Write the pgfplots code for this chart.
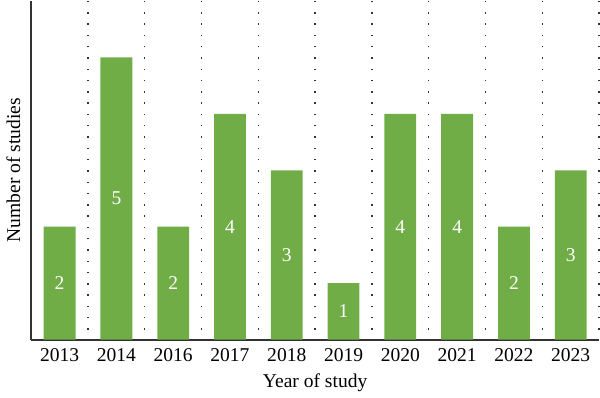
\documentclass[border=0pt]{standalone}
\usepackage{fontspec}
\setmainfont{Liberation Serif}
\usepackage{pgfplots}
\usepackage{pgfplotstable}
\pgfplotsset{compat=1.18}
\definecolor{bargreen}{HTML}{70AD47}
\pgfplotstableread{
x n
0 2
1 5
2 2
3 4
4 3
5 1
6 4
7 4
8 2
9 3
}\studies
\begin{document}
\fontsize{9.5}{11}\selectfont
\begin{tikzpicture}
\begin{axis}[
  scale only axis, width=285pt, height=170pt,
  xmin=-0.5, xmax=9.5, ymin=0, ymax=6,
  axis lines*=left,
  axis line style={-, draw=black!80, line width=0.9pt},
  xtick={0,...,9},
  xticklabels={2013,2014,2016,2017,2018,2019,2020,2021,2022,2023},
  ytick=\empty,
  major tick length=0pt, minor tick length=0pt,
  minor xtick={0.5,1.5,...,9.5},
  xminorgrids=true,
  minor grid style={draw=black!80, line width=0.7pt, dash pattern=on 0.7pt off 4.9667pt, dash phase=0.7pt},
  xticklabel style={font=\fontsize{9.8}{11}\selectfont, yshift=-1pt},
  /pgf/number format/assume math mode=true,
  xlabel={Year of study},
  ylabel={Number of studies},
  every axis x label/.style={at={(axis description cs:0.5,0)}, anchor=center, yshift=-21.5pt, font=\fontsize{9.8}{11}\selectfont},
  every axis y label/.style={at={(axis description cs:0,0.5)}, rotate=90, anchor=center, yshift=9pt, font=\fontsize{9.8}{11}\selectfont},
  clip=false,
]
\addplot[ybar, bar width=0.56, bar shift=0pt, fill=bargreen, draw=none] table[x=x, y=n] {\studies};
\addplot[draw=none, mark=none, nodes near coords, point meta=explicit,
  every node near coord/.append style={anchor=center, text=white, font=\fontsize{9.8}{11}\selectfont}]
  table[x=x, y expr=\thisrow{n}/2, meta=n] {\studies};
\end{axis}
\end{tikzpicture}
\end{document}
